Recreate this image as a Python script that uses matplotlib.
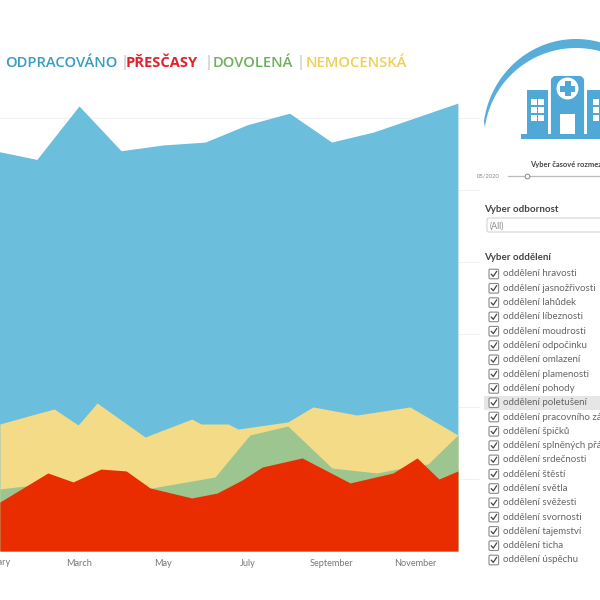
import numpy as np
import matplotlib
matplotlib.use("Agg")
import matplotlib.pyplot as plt
from matplotlib.patches import Rectangle, FancyBboxPatch, Circle, Polygon

plt.rcParams['font.family'] = ['Lato', 'DejaVu Sans']

# ---- data (month index: January = 0) ----
blue_x = [0, 1, 2, 3, 4, 5, 6, 7, 8, 9, 10, 11]
blue_y = [27.7, 27.1, 30.8, 27.7, 28.1, 28.3, 29.5, 30.3, 28.3, 29.0, 30.0, 31.0]
yellow_x = [0.12, 0.88, 1.41, 1.98, 2.43, 3.57, 4.68, 4.90, 5.54, 5.78, 6.96, 7.56, 8.60, 9.86, 11.0]
yellow_y = [8.79, 9.41, 9.83, 8.72, 10.24, 7.89, 9.13, 8.79, 8.79, 8.44, 8.93, 9.97, 9.41, 9.97, 8.03]
green_x = [0.12, 0.72, 3.73, 5.23, 6.06, 6.96, 8.01, 9.08, 9.55, 10.29, 11.0]
green_y = [4.29, 4.5, 4.36, 5.12, 8.03, 8.65, 5.74, 5.4, 5.67, 6.02, 8.03]
red_x = [0.12, 1.26, 1.86, 2.52, 3.12, 3.69, 4.68, 5.28, 5.87, 6.35, 7.3, 8.44, 9.46, 10.03, 10.55, 11.0]
red_y = [3.39, 5.4, 4.78, 5.67, 5.54, 4.36, 3.67, 4.01, 4.91, 5.81, 6.44, 4.71, 5.4, 6.44, 4.98, 5.54]
month_ticks = [0, 2, 4, 6, 8, 10]
month_labels = ['January', 'March', 'May', 'July', 'September', 'November']
y_ticks = [0, 5, 10, 15, 20, 25, 30]
departments = ['hravosti', 'jasnožřivosti', 'lahůdek', 'líbeznosti', 'moudrosti', 'odpočinku',
               'omlazení', 'plamenosti', 'pohody', 'poletušení', 'pracovního zázemí', 'špičků',
               'splněných přání', 'srdečnosti', 'štěstí', 'světla', 'svěžesti', 'svornosti',
               'tajemství', 'ticha', 'úspěchu']
title_parts = [('ODPRACOVÁNO', 5, '#3a9cc4', 'semibold'), ('|', 121, '#bbbbbb', 'normal'),
               ('PŘESČASY', 126, '#e0222d', 'bold'), ('|', 205, '#bbbbbb', 'normal'),
               ('DOVOLENÁ', 213, '#6fb05c', 'semibold'), ('|', 297, '#bbbbbb', 'normal'),
               ('NEMOCENSKÁ', 306, '#efcf55', 'semibold')]

fig = plt.figure(figsize=(6, 6), dpi=100, facecolor='white')

# ---- chart ----
W, H = 600.0, 600.0
ax = fig.add_axes([0, 1 - 551 / H, 480 / W, (551 - 30) / H])
m = lambda px: (px - 79) / 42.1 + 2
ax.set_yticks(y_ticks)
ax.tick_params(axis='y', length=0, labelleft=False)
ax.grid(axis='y', color='#f1f1f1', lw=0.8)
ax.set_axisbelow(True)
ax.fill_between(blue_x, blue_y, color='#6bbfdd', lw=0, zorder=2)
ax.fill_between(yellow_x, yellow_y, color='#f3db87', lw=0, zorder=3)
ax.fill_between(green_x, green_y, color='#9cc58f', lw=0, zorder=4)
ax.fill_between(red_x, red_y, color='#e92d00', lw=0, zorder=5)
for s in ax.spines.values():
    s.set_visible(False)
ax.set_xticks(month_ticks)
ax.set_xticklabels(month_labels, fontsize=6.6, color='#777777')
ax.tick_params(axis='x', length=0, pad=6)
ax.set_xlim(m(0), m(480))
ax.set_ylim(0, (551 - 30) / 14.45)
# January's label sits left of the axes window; place it by hand so it is cut by the figure edge
for lab, tick in zip(ax.get_xticklabels(), month_ticks):
    if tick == 0:
        lab.set_visible(False)

# ---- overlay in pixel coordinates ----
ui = fig.add_axes([0, 0, 1, 1], facecolor='none')
ui.set_xlim(0, 600)
ui.set_ylim(600, 0)
ui.axis('off')

ui.text(-5, 562.5, month_labels[0], fontsize=6.6, color='#777777', ha='center', va='center')

for txt, x, col, wt in title_parts:
    ui.text(x, 63, txt, color=col, fontsize=10.6, fontweight=wt, va='center', ha='left',
            family=['Open Sans', 'DejaVu Sans'])

# logo
LOGO = '#4fa8d5'
t = np.radians(np.linspace(188, 290, 80))
outer = np.c_[576 + 93 * np.cos(t), 135 + 96 * np.sin(t)]
inner = np.c_[576 + 92 * np.cos(t[::-1]), 140 + 92 * np.sin(t[::-1])]
ui.add_patch(Polygon(np.r_[outer, inner], closed=True, fc='#58aed8', ec='none'))
ui.add_patch(Rectangle((521, 134), 90, 5, fc=LOGO, ec='none'))
ui.add_patch(Rectangle((527, 90), 21, 45, fc=LOGO, ec='none'))
ui.add_patch(Rectangle((587, 90), 21, 45, fc=LOGO, ec='none'))
ui.add_patch(FancyBboxPatch((553, 78), 29, 58, boxstyle='round,pad=0,rounding_size=3', fc=LOGO, ec=LOGO, lw=3))
ui.add_patch(Circle((567.5, 88.5), 11, fc='white', ec='none'))
ui.add_patch(Rectangle((564.5, 81), 6, 15, fc=LOGO, ec='none'))
ui.add_patch(Rectangle((560, 85.5), 15, 6, fc=LOGO, ec='none'))
ui.add_patch(Rectangle((560, 114), 15, 20, fc='white', ec='none'))
for wx in (531, 538, 593, 600):
    for wy in (99, 107, 115):
        ui.add_patch(Rectangle((wx, wy), 5.5, 5.5, fc='white', ec='none'))

# slider
ui.text(530, 165, 'Vyber časové rozmezí', fontsize=5.4, fontweight='bold', color='#444444', va='center')
ui.text(477, 176, '05/2020', fontsize=4.2, color='#888888', va='center')
ui.plot([508, 600], [176, 176], color='#bbbbbb', lw=0.9)
ui.plot([527], [176], 'o', ms=3.4, mfc='white', mec='#888888', mew=0.7)

# dropdown
ui.text(484, 209, 'Vyber odbornost', fontsize=7, fontweight='bold', color='#444444', va='center')
ui.add_patch(FancyBboxPatch((487, 218), 120, 14, boxstyle='round,pad=0,rounding_size=1.5',
                            fc='white', ec='#cfcfcf', lw=0.7))
ui.text(489.5, 226, '(All)', fontsize=6.2, color='#888888', va='center')

# checklist
ui.text(484, 257, 'Vyber oddělení', fontsize=7, fontweight='bold', color='#444444', va='center')
for i, name in enumerate(departments):
    y = 274 + i * 14.3
    if name == 'poletušení':
        ui.add_patch(Rectangle((484, y - 7), 116, 14, fc='#e6e6e6', ec='none'))
    ui.add_patch(FancyBboxPatch((489, y - 4.8), 9.6, 9.6, boxstyle='round,pad=0,rounding_size=1.2',
                                fc='white', ec='#8a8a8a', lw=0.8))
    ui.plot([491.3, 493.3, 496.6], [y + 0.2, y + 2.4, y - 2.6], color='#444444', lw=0.9)
    ui.text(503, y, 'oddělení ' + name, fontsize=7, color='#666666', va='center', clip_on=False)

fig.savefig('out.png', dpi=100)
